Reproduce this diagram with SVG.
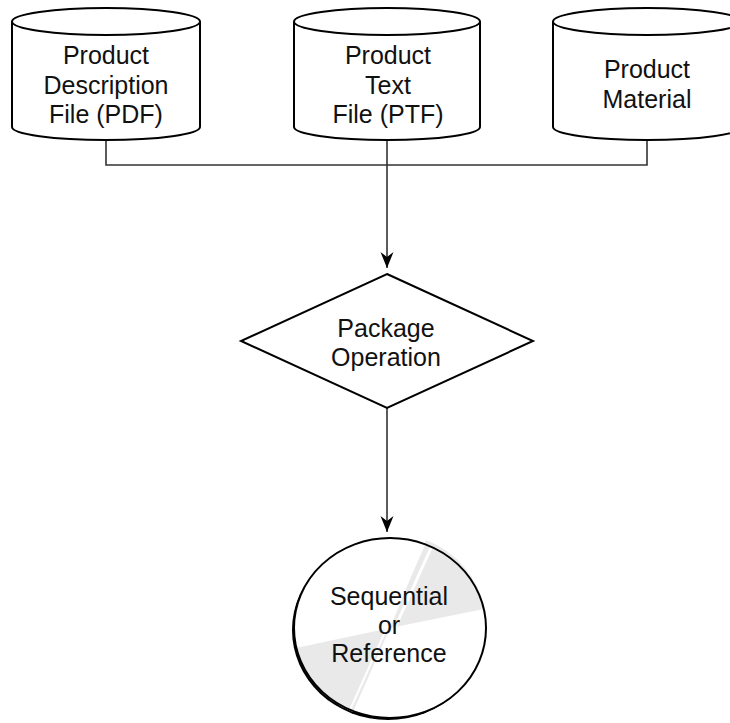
<svg xmlns="http://www.w3.org/2000/svg" width="730" height="723" viewBox="0 0 730 723">
<defs>
<style>
.shape{fill:#fff;stroke:#000;stroke-width:2}
.conn{fill:none;stroke:#333;stroke-width:1.6}
text{font-family:"Liberation Sans",Arial,sans-serif;font-size:25px;fill:#111;text-anchor:middle}
</style>
<marker id="arr" markerWidth="20" markerHeight="14" viewBox="-17 -7 18 14" refX="0" refY="0" orient="auto" markerUnits="userSpaceOnUse">
<path d="M0,0 L-16,-6.5 L-11,0 L-16,6.5 Z" fill="#000"/>
</marker>
</defs>
<rect width="730" height="723" fill="#fff"/>
<g id="connectors">
<polyline class="conn" points="106,140 106,165 647,165 647,140"/>
<line class="conn" x1="387" y1="140" x2="387" y2="268" marker-end="url(#arr)"/>
<line class="conn" x1="387" y1="408" x2="387" y2="532" marker-end="url(#arr)"/>
</g>
<g id="pdf">
<path class="shape" d="M12,21.5 L12,127 A94,13 0 0 0 200,127 L200,21.5"/>
<ellipse class="shape" cx="106" cy="21.5" rx="94" ry="13.5"/>
<text x="106" y="64">Product</text>
<text x="106" y="93.5">Description</text>
<text x="106" y="123">File (PDF)</text>
</g>
<g id="ptf">
<path class="shape" d="M294,21.5 L294,127 A93,13 0 0 0 480,127 L480,21.5"/>
<ellipse class="shape" cx="387" cy="21.5" rx="93" ry="13.5"/>
<text x="388" y="64">Product</text>
<text x="388" y="93.5">Text</text>
<text x="388" y="123">File (PTF)</text>
</g>
<g id="material">
<path class="shape" d="M553,21.5 L553,127 A94,13 0 0 0 741,127 L741,21.5"/>
<ellipse class="shape" cx="647" cy="21.5" rx="94" ry="13.5"/>
<text x="647" y="78">Product</text>
<text x="647" y="108">Material</text>
</g>
<g id="package">
<polygon class="shape" points="387,274 533,341 387,408 241,341"/>
<text x="386" y="337">Package</text>
<text x="386" y="366">Operation</text>
</g>
<g id="output">
<ellipse cx="388" cy="630" rx="96" ry="90" fill="#000"/>
<ellipse cx="390" cy="628" rx="96" ry="90" fill="#fff"/>
<path d="M390,628 L426,540 A96,90 0 0 1 484,609 Z" fill="#e9e9e9"/>
<path d="M390,628 L353,712 A96,90 0 0 1 296,648 Z" fill="#e9e9e9"/>
<line x1="431" y1="548" x2="357" y2="712" stroke="#fff" stroke-width="3"/>
<line x1="424" y1="545" x2="350" y2="710" stroke="#fff" stroke-width="2"/>
<ellipse cx="390" cy="628" rx="96" ry="90" fill="none" stroke="#000" stroke-width="2"/>
<text x="389" y="605">Sequential</text>
<text x="389" y="633.5">or</text>
<text x="389" y="662">Reference</text>
</g>
</svg>
